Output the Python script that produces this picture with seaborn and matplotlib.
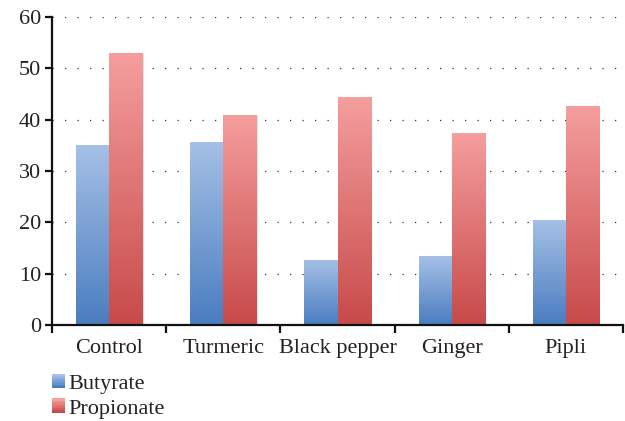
import numpy as np
import pandas as pd
import matplotlib
matplotlib.use("Agg")
import matplotlib.pyplot as plt
import seaborn as sns
from matplotlib.colors import LinearSegmentedColormap
from matplotlib.patches import Rectangle
from matplotlib.legend_handler import HandlerBase

categories = ["Control", "Turmeric", "Black pepper", "Ginger", "Pipli"]
butyrate = [35.0, 35.7, 12.7, 13.4, 20.5]
propionate = [53.0, 41.0, 44.5, 37.5, 42.6]
series_names = ["Butyrate", "Propionate"]
yticks = [0, 10, 20, 30, 40, 50, 60]

df = pd.DataFrame({
    "category": categories * 2,
    "value": butyrate + propionate,
    "series": [series_names[0]] * len(categories) + [series_names[1]] * len(categories),
})

sns.set_style("white")
plt.rcParams["font.family"] = ["Liberation Serif", "DejaVu Serif"]

fig = plt.figure(figsize=(6.25, 4.21), dpi=100)
ax = fig.add_axes([52 / 625, 1 - 325 / 421, (623 - 52) / 625, (325 - 17) / 421])

top_cols = {"Butyrate": "#a6c0e6", "Propionate": "#f59e9e"}
bot_cols = {"Butyrate": "#4a7dc0", "Propionate": "#c84a4a"}
palette = {"Butyrate": "#7a9fd4", "Propionate": "#e07070"}

sns.barplot(data=df, x="category", y="value", hue="series", palette=palette,
            width=0.58, ax=ax, legend=False, saturation=1, errorbar=None)

# gradient fills
for container, name in zip(ax.containers, series_names):
    cmap = LinearSegmentedColormap.from_list(name, [bot_cols[name], top_cols[name]])
    grad = np.linspace(0, 1, 256).reshape(-1, 1)
    for bar in container:
        x0, y0 = bar.get_x(), bar.get_y()
        w, h = bar.get_width(), bar.get_height()
        bar.set_facecolor("none")
        bar.set_edgecolor("none")
        sh = Rectangle((x0 + 0.012, y0), w, h - 0.25, facecolor="#000000", alpha=0.12,
                       edgecolor="none", zorder=1.5)
        ax.add_patch(sh)
        im = ax.imshow(grad, extent=[x0, x0 + w, y0, y0 + h], origin="lower",
                       cmap=cmap, aspect="auto", zorder=2, interpolation="bilinear")
        clip = Rectangle((x0, y0), w, h, transform=ax.transData)
        im.set_clip_path(clip)

ax.set_xlim(-0.5, len(categories) - 0.5)
ax.set_ylim(0, 60)

ax.set_yticks(yticks)
for yv in yticks[1:]:
    ax.axhline(yv, color="#333333", lw=0.9, ls=(0, (1, 9)), zorder=1)

sns.despine(ax=ax, top=True, right=True)
for s in ["left", "bottom"]:
    ax.spines[s].set_linewidth(1.6)
    ax.spines[s].set_color("#111111")

ax.set_xlabel("")
ax.set_ylabel("")
ax.set_xticks(range(len(categories)))
ax.set_xticklabels(categories, fontsize=16, color="#222222")
ax.tick_params(axis="x", length=0, pad=10)
ax.tick_params(axis="y", direction="out", length=5, width=1.6, color="#111111",
               labelsize=16, labelcolor="#222222", pad=3, left=True)
ax.set_xticks([i - 0.5 for i in range(len(categories) + 1)], minor=True)
ax.tick_params(axis="x", which="minor", direction="out", length=6, width=1.6,
               color="#111111", bottom=True)


class GradHandler(HandlerBase):
    def create_artists(self, legend, orig_handle, xdescent, ydescent, width, height,
                       fontsize, trans):
        name = orig_handle.get_label()
        cmap = LinearSegmentedColormap.from_list(name, [bot_cols[name], top_cols[name]])
        n = 8
        arts = []
        for i in range(n):
            r = Rectangle((-xdescent, -ydescent + height * i / n), width, height / n + 0.3,
                          facecolor=cmap(i / (n - 1)), edgecolor="none", transform=trans)
            arts.append(r)
        return arts


handles = [Rectangle((0, 0), 1, 1, label=name) for name in series_names]
leg = fig.legend(handles, series_names, loc="upper left",
                 bbox_to_anchor=(52 / 625, 1 - 374 / 421),
                 handler_map={Rectangle: GradHandler()},
                 frameon=False, fontsize=16, handlelength=0.6, handleheight=0.6,
                 handletextpad=0.15, labelspacing=0.22, borderpad=0, borderaxespad=0)
for t in leg.get_texts():
    t.set_color("#222222")

fig.savefig("out.png", dpi=100)
